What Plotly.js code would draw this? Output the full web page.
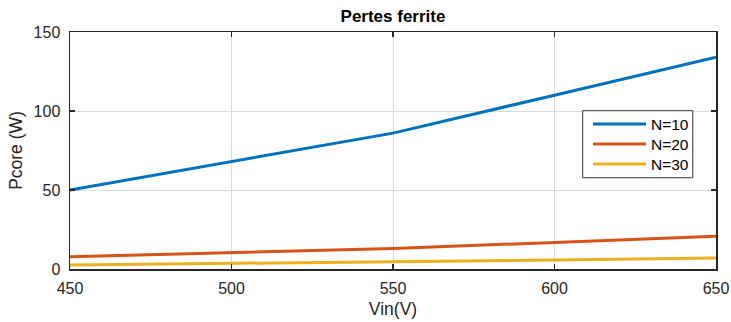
<!DOCTYPE html>
<html><head><meta charset="utf-8">
<script src="https://cdn.plot.ly/plotly-3.0.1.min.js"></script>
<style>html,body{margin:0;padding:0;background:#fff;}</style>
</head><body>
<div id="chart" style="width:731px;height:322px;"></div>
<script>
var vin = [450, 500, 550, 600, 650];
var pN10 = [50, 68, 86, 110, 134];
var pN20 = [7.7, 10.3, 13, 16.8, 20.8];
var pN30 = [2.5, 3.5, 4.5, 5.7, 7];
var seriesNames = ['N=10', 'N=20', 'N=30'];
var colors = ['#0072BD', '#D95319', '#EDB120'];
var FONT = 'Liberation Sans, Arial, sans-serif';

var traces = [pN10, pN20, pN30].map(function (ys, i) {
  return {x: vin, y: ys, type: 'scatter', mode: 'lines', name: seriesNames[i],
          line: {color: colors[i], width: 3}, showlegend: false};
});

var axBase = {
  showline: true, linecolor: '#262626', linewidth: 1.5, mirror: 'ticks',
  ticks: 'inside', ticklen: 5, tickcolor: '#262626', tickwidth: 1.5,
  showgrid: true, gridcolor: '#dadada', gridwidth: 1, zeroline: false,
  tickfont: {family: FONT, size: 16, color: '#262626'}
};

// custom legend (MATLAB style: long line samples)
var legShapes = [{type: 'rect', xref: 'paper', yref: 'paper', x0: 0.7937, x1: 0.964, y0: 0.385, y1: 0.668,
                  fillcolor: '#ffffff', line: {color: '#333333', width: 1}, layer: 'above'}];
var legAnn = [];
var rowY = [0.6118, 0.5274, 0.4430];
seriesNames.forEach(function (nm, i) {
  legShapes.push({type: 'line', xref: 'paper', yref: 'paper', x0: 0.8096, x1: 0.8916, y0: rowY[i], y1: rowY[i],
                  line: {color: colors[i], width: 3}, layer: 'above'});
  legAnn.push({xref: 'paper', yref: 'paper', x: 0.8963, y: rowY[i], xanchor: 'left', yanchor: 'middle',
               text: nm, showarrow: false, font: {family: FONT, size: 15.5, color: '#000'}});
});

var layout = {
  width: 731, height: 322,
  margin: {l: 70, r: 15, t: 32, b: 53},
  paper_bgcolor: '#fff', plot_bgcolor: '#fff',
  title: {text: '<b>Pertes ferrite</b>', xref: 'paper', x: 0.5, xanchor: 'center', y: 0.95, yanchor: 'middle',
          font: {family: FONT, size: 17, color: '#000'}},
  xaxis: Object.assign({}, axBase, {
    range: [450, 650], tickvals: vin, ticklabelstandoff: 4,
    title: {text: 'Vin(V)', standoff: 7, font: {family: FONT, size: 17.5, color: '#262626'}}
  }),
  yaxis: Object.assign({}, axBase, {
    range: [0, 150], tickvals: [0, 50, 100, 150], ticklabelstandoff: 5,
    title: {text: 'Pcore (W)', standoff: 6, font: {family: FONT, size: 17.5, color: '#262626'}}
  }),
  showlegend: false,
  shapes: legShapes,
  annotations: legAnn
};

Plotly.newPlot('chart', traces, layout, {displayModeBar: false, staticPlot: true});
</script>
</body></html>
